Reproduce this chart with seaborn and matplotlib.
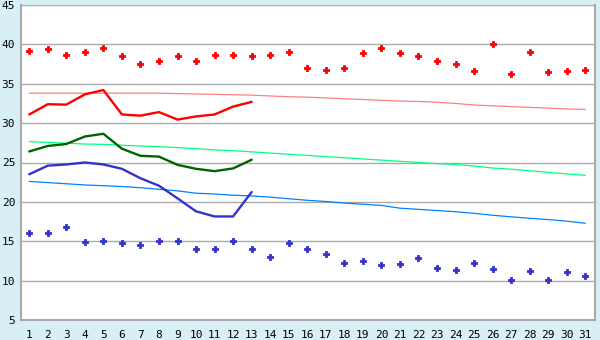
import matplotlib
matplotlib.use("Agg")
import matplotlib.pyplot as plt
import seaborn as sns
import pandas as pd

days = list(range(1, 32))
days_actual = list(range(1, 14))

record_max = [39.2, 39.4, 38.6, 39.0, 39.6, 38.5, 37.5, 37.85, 38.5, 37.95,
              38.6, 38.7, 38.5, 38.7, 39.0, 36.95, 36.8, 36.95, 38.85, 39.5,
              38.85, 38.5, 37.85, 37.45, 36.6, 40.1, 36.2, 39.0, 36.45, 36.6, 36.7]
record_min = [16.1, 16.0, 16.75, 14.85, 15.0, 14.75, 14.5, 15.0, 15.0, 14.0,
              14.0, 15.0, 14.0, 12.95, 14.75, 14.0, 13.35, 12.2, 12.45, 11.95,
              12.05, 12.85, 11.55, 11.3, 12.2, 11.45, 10.05, 11.2, 10.05, 11.05, 10.55]
normal_max = [33.8, 33.8, 33.8, 33.8, 33.8, 33.8, 33.8, 33.8, 33.75, 33.7,
              33.65, 33.6, 33.55, 33.45, 33.35, 33.3, 33.2, 33.1, 33.0, 32.9,
              32.8, 32.75, 32.65, 32.5, 32.3, 32.2, 32.1, 32.0, 31.9, 31.8, 31.75]
normal_mean = [27.65, 27.55, 27.45, 27.35, 27.3, 27.2, 27.1, 27.0, 26.9, 26.75,
               26.6, 26.5, 26.35, 26.2, 26.05, 25.9, 25.75, 25.6, 25.45, 25.3,
               25.15, 25.0, 24.85, 24.75, 24.55, 24.3, 24.15, 23.95, 23.75, 23.55, 23.37]
normal_min = [22.6, 22.45, 22.3, 22.15, 22.05, 21.95, 21.8, 21.6, 21.4, 21.1,
              21.0, 20.85, 20.75, 20.6, 20.4, 20.2, 20.05, 19.85, 19.7, 19.55,
              19.2, 19.05, 18.9, 18.75, 18.55, 18.3, 18.1, 17.92, 17.75, 17.55, 17.28]
actual_max = [31.1, 32.4, 32.35, 33.65, 34.2, 31.1, 30.95, 31.4, 30.45, 30.85,
              31.1, 32.1, 32.7]
actual_mean = [26.4, 27.1, 27.35, 28.3, 28.65, 26.75, 25.85, 25.75, 24.7, 24.2,
               23.9, 24.25, 25.35]
actual_min = [23.5, 24.6, 24.75, 25.0, 24.75, 24.2, 23.0, 22.05, 20.45, 18.8,
              18.15, 18.15, 21.25]

yticks = [5, 10, 15, 20, 25, 30, 35, 40, 45]

df_all = pd.DataFrame({"day": days, "rmax": record_max, "rmin": record_min,
                       "nmax": normal_max, "nmean": normal_mean, "nmin": normal_min})
df_act = pd.DataFrame({"day": days_actual, "amax": actual_max,
                       "amean": actual_mean, "amin": actual_min})

sns.set_style("white")
plt.rcParams["font.family"] = ["DejaVu Sans Mono", "DejaVu Sans"]

bg = "#d9eff6"
fig = plt.figure(figsize=(6, 3.4), dpi=100, facecolor=bg)
ax = fig.add_axes([20.7 / 600, 20 / 340, 574.6 / 600, 315 / 340])
ax.set_facecolor("white")

for v in yticks:
    ax.axhline(v, color="#aaaaaa", lw=1.0, zorder=0)

sns.lineplot(data=df_all, x="day", y="nmax", ax=ax, color="#ff8080", lw=0.9)
sns.lineplot(data=df_all, x="day", y="nmean", ax=ax, color="#00ff80", lw=0.9)
sns.lineplot(data=df_all, x="day", y="nmin", ax=ax, color="#0080ff", lw=0.9)

sns.lineplot(data=df_act, x="day", y="amax", ax=ax, color="#ff0000", lw=1.7)
sns.lineplot(data=df_act, x="day", y="amean", ax=ax, color="#006400", lw=1.7)
sns.lineplot(data=df_act, x="day", y="amin", ax=ax, color="#3333cc", lw=1.7)

sns.scatterplot(data=df_all, x="day", y="rmax", ax=ax, color="#ff0000",
                marker="P", s=20, linewidth=0.6, edgecolor="#ff0000")
sns.scatterplot(data=df_all, x="day", y="rmin", ax=ax, color="#3333cc",
                marker="P", s=20, linewidth=0.6, edgecolor="#3333cc")

ax.set_xlim(0.54, 31.54)
ax.set_ylim(5, 45)
ax.set_xticks(days)
ax.set_yticks(yticks)
ax.set_xlabel("")
ax.set_ylabel("")
ax.tick_params(axis="x", direction="out", length=5, width=1, color="#333333",
               labelsize=8, pad=2, labelcolor="black")
ax.tick_params(axis="y", direction="out", length=3, width=1, color="#333333",
               labelsize=8, pad=1, labelcolor="black")
for s in ["left", "bottom", "right"]:
    ax.spines[s].set_color("#aaaaaa")
    ax.spines[s].set_linewidth(1.5)
ax.spines["top"].set_visible(False)

fig.savefig("out.png", dpi=100, facecolor=bg)
